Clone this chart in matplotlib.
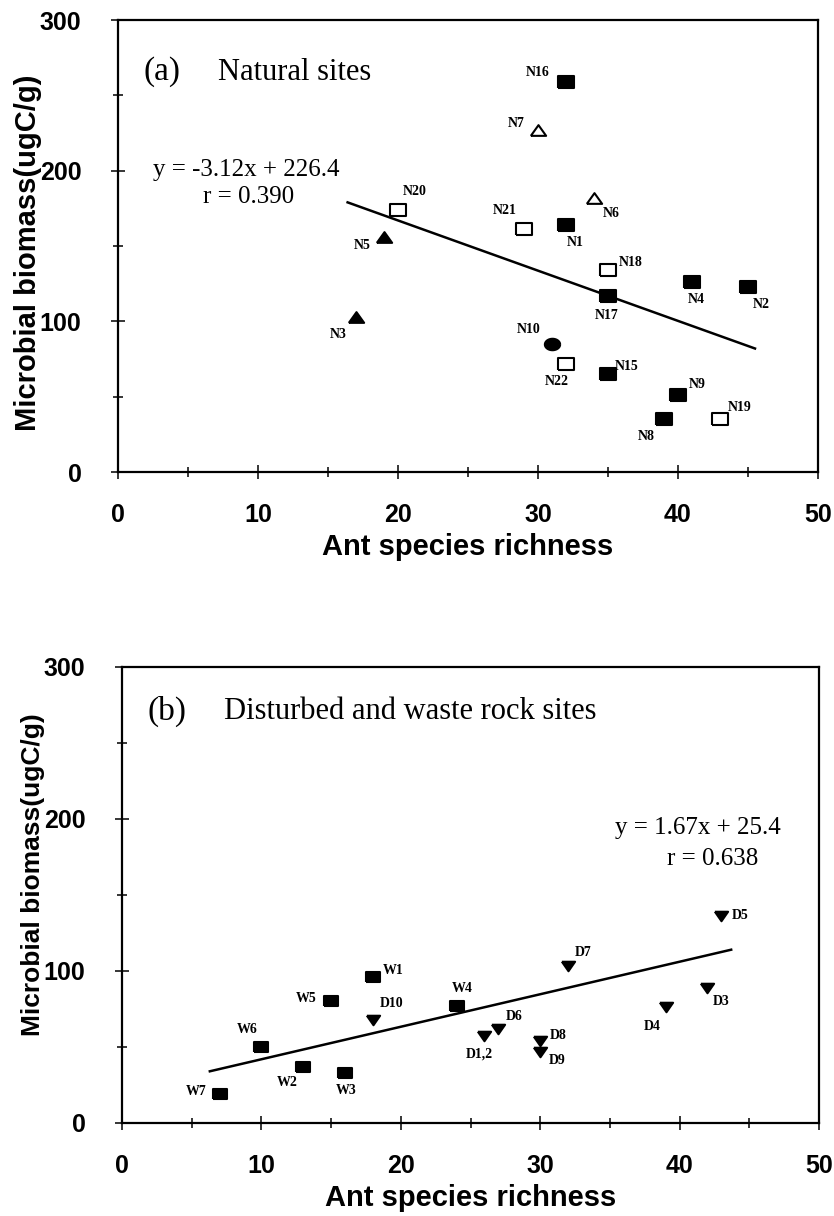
import numpy as np
import matplotlib
matplotlib.use('Agg')
import matplotlib.pyplot as plt
from matplotlib.ticker import MultipleLocator

# (a) natural sites
n_fsq_names = ['N1', 'N2', 'N4', 'N8', 'N9', 'N15', 'N16', 'N17']
n_fsq_x = [32, 45, 41, 39, 40, 35, 32, 35]
n_fsq_y = [164, 123, 126, 35, 51, 65, 259, 117]
n_osq_names = ['N18', 'N19', 'N20', 'N21', 'N22']
n_osq_x = [35, 43, 20, 29, 32]
n_osq_y = [134, 35, 174, 161, 72]
n_ftri_names = ['N3', 'N5']
n_ftri_x = [17, 19]
n_ftri_y = [103, 156]
n_otri_names = ['N6', 'N7']
n_otri_x = [34, 30]
n_otri_y = [182, 227]
n_circ_names = ['N10']
n_circ_x = [31]
n_circ_y = [85]
fit_a_x = [16.4, 45.5]
fit_a_y = [179, 82]

# (b) disturbed and waste rock sites
w_names = ['W1', 'W2', 'W3', 'W4', 'W5', 'W6', 'W7']
w_x = [18, 13, 16, 24, 15, 10, 7]
w_y = [96, 37, 33, 77, 80, 50, 19]
d_names = ['D1,2', 'D3', 'D4', 'D5', 'D6', 'D7', 'D8', 'D9', 'D10']
d_x = [26, 42, 39, 43, 27, 32, 30, 30, 18]
d_y = [57, 89, 76, 136, 62, 103, 54, 47, 68]
fit_b_x = [6.3, 43.7]
fit_b_y = [34, 114]

# label offsets in pixels (dx, dy)
offs = {
    'N1': (9, -18), 'N2': (13, -18), 'N4': (4, -17), 'N8': (-18, -17),
    'N9': (19, 11), 'N15': (19, 8), 'N16': (-28, 9), 'N17': (-1, -20),
    'N18': (23, 8), 'N19': (20, 12), 'N20': (17, 18), 'N21': (-19, 19),
    'N22': (-9, -18), 'N3': (-18, -18), 'N5': (-22, -8), 'N6': (17, -16),
    'N7': (-22, 7), 'N10': (-23, 14),
    'W1': (20, 7), 'W2': (-16, -16), 'W3': (1, -18), 'W4': (6, 17),
    'W5': (-25, 3), 'W6': (-14, 17), 'W7': (-23, 3),
    'D1,2': (-5, -18), 'D3': (14, -14), 'D4': (-13, -19), 'D5': (19, 1),
    'D6': (16, 12), 'D7': (15, 14), 'D8': (18, 5), 'D9': (17, -9),
    'D10': (19, 16),
}

rect = [(-1, -0.75), (1, -0.75), (1, 0.75), (-1, 0.75), (-1, -0.75)]
tri_up = [(-1, -0.7), (1, -0.7), (0, 0.7), (-1, -0.7)]
tri_dn = [(-1, 0.72), (1, 0.72), (0, -0.72), (-1, 0.72)]
t = np.linspace(0, 2 * np.pi, 40)
ellipse = list(zip(np.cos(t), 0.75 * np.sin(t)))

serif = ['Liberation Serif', 'DejaVu Serif']
sans = ['Liberation Sans', 'DejaVu Sans']


def pts(ax, xs, ys, names, marker, ms, face):
    ax.plot(xs, ys, linestyle='none', marker=marker, ms=ms, mfc=face,
            mec='black', mew=1.5, zorder=3)
    for n, x, y in zip(names, xs, ys):
        dx, dy = offs[n]
        ax.annotate(n, (x, y), xytext=(dx, dy), textcoords='offset pixels',
                    ha='center', va='center', fontsize=10, fontweight='bold',
                    family=serif)


def style(ax, ylab_size, ylab_y):
    ax.set_xlim(0, 50)
    ax.set_ylim(0, 300)
    ax.xaxis.set_major_locator(MultipleLocator(10))
    ax.xaxis.set_minor_locator(MultipleLocator(5))
    ax.yaxis.set_major_locator(MultipleLocator(100))
    ax.yaxis.set_minor_locator(MultipleLocator(50))
    ax.tick_params(which='major', direction='inout', length=10.5, width=1.1)
    ax.tick_params(which='minor', direction='inout', length=7.5, width=1.1)
    ax.tick_params(axis='x', which='major', pad=17)
    ax.tick_params(axis='y', which='major', pad=21)
    for lab in ax.get_xticklabels() + ax.get_yticklabels():
        lab.set_fontsize(18)
        lab.set_fontweight('bold')
        lab.set_family(sans)
    for s in ax.spines.values():
        s.set_linewidth(1.6)
    ax.set_xlabel('Ant species richness', fontsize=21, fontweight='bold', family=sans)
    ax.set_ylabel('Microbial biomass(ugC/g)', fontsize=ylab_size, fontweight='bold',
                  family=sans)
    ax.xaxis.set_label_coords(0.5, -0.165)
    ax.xaxis.label.set_va('center')
    ax.yaxis.set_label_coords(-0.128, ylab_y)
    ax.yaxis.label.set_va('center')


fig = plt.figure(figsize=(8.34, 12.16), dpi=100)
ax1 = fig.add_axes([0.1415, 0.6118, 0.8393, 0.3717])
ax2 = fig.add_axes([0.1463, 0.0765, 0.8357, 0.375])

# panel a
ax1.plot(fit_a_x, fit_a_y, color='black', lw=1.8, zorder=2)
pts(ax1, n_fsq_x, n_fsq_y, n_fsq_names, rect, 11, 'black')
pts(ax1, n_osq_x, n_osq_y, n_osq_names, rect, 11, 'white')
pts(ax1, n_ftri_x, n_ftri_y, n_ftri_names, tri_up, 11, 'black')
pts(ax1, n_otri_x, n_otri_y, n_otri_names, tri_up, 11, 'white')
pts(ax1, n_circ_x, n_circ_y, n_circ_names, ellipse, 11, 'black')
style(ax1, 21, 0.485)
ax1.text(0.036, 0.885, '(a)', transform=ax1.transAxes, fontsize=24,
         family=serif, va='center', ha='left')
ax1.text(0.143, 0.885, 'Natural sites', transform=ax1.transAxes, fontsize=22,
         family=serif, va='center', ha='left')
ax1.text(0.1836, 0.668, 'y = -3.12x + 226.4', transform=ax1.transAxes,
         fontsize=18, family=serif, va='center', ha='center')
ax1.text(0.186, 0.608, 'r = 0.390', transform=ax1.transAxes,
         fontsize=18, family=serif, va='center', ha='center')

# panel b
ax2.plot(fit_b_x, fit_b_y, color='black', lw=1.8, zorder=2)
pts(ax2, w_x, w_y, w_names, rect, 9.5, 'black')
pts(ax2, d_x, d_y, d_names, tri_dn, 9.5, 'black')
style(ax2, 19, 0.544)
ax2.text(0.036, 0.902, '(b)', transform=ax2.transAxes, fontsize=24,
         family=serif, va='center', ha='left')
ax2.text(0.146, 0.902, 'Disturbed and waste rock sites', transform=ax2.transAxes,
         fontsize=22, family=serif, va='center', ha='left')
ax2.text(0.826, 0.647, 'y = 1.67x + 25.4', transform=ax2.transAxes,
         fontsize=18, family=serif, va='center', ha='center')
ax2.text(0.847, 0.579, 'r = 0.638', transform=ax2.transAxes,
         fontsize=18, family=serif, va='center', ha='center')

fig.savefig('out.png', dpi=100)
